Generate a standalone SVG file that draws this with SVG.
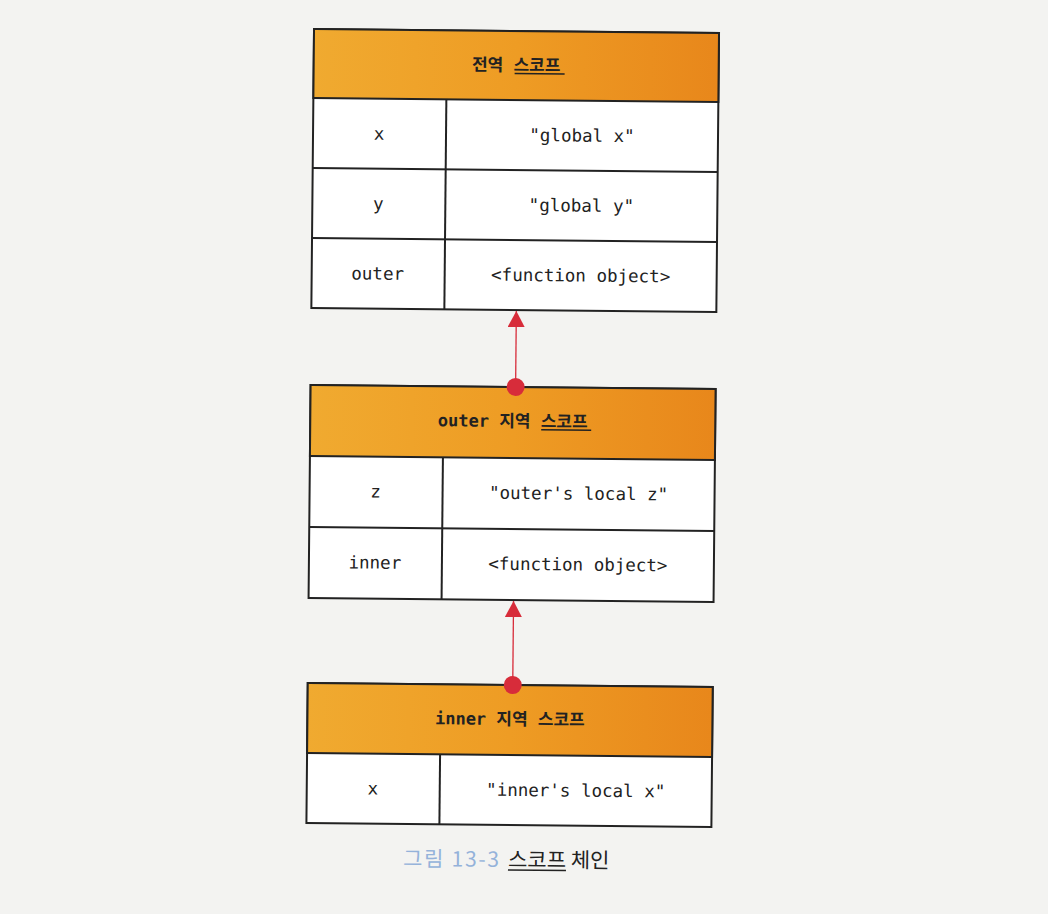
<svg xmlns="http://www.w3.org/2000/svg" width="1048" height="914" viewBox="0 0 1048 914">
  <defs>
    <linearGradient id="hdr" x1="0" y1="0" x2="1" y2="0">
      <stop offset="0" stop-color="#f0aa30"/>
      <stop offset="0.5" stop-color="#ee9c24"/>
      <stop offset="1" stop-color="#e8871b"/>
    </linearGradient>
    <marker id="tri" viewBox="0 0 16 17" refX="16" refY="8.5" markerWidth="16" markerHeight="17" markerUnits="userSpaceOnUse" orient="auto">
      <path d="M0,0 L16,8.5 L0,17 z" fill="#d72c3a"/>
    </marker>
    <marker id="dot" viewBox="0 0 20 20" refX="10" refY="10" markerWidth="20" markerHeight="20" markerUnits="userSpaceOnUse" orient="auto">
      <circle cx="10" cy="10" r="9" fill="#d72c3a"/>
    </marker>
  </defs>
  <style>
    .hdr { fill: url(#hdr); stroke: #222; stroke-width: 2; }
    .cell { fill: #ffffff; stroke: #222; stroke-width: 2; }
    .grid { stroke: #222; stroke-width: 2; }
    .h { font-family: "DejaVu Sans Mono", "Noto Sans CJK KR", monospace; font-size: 17px; font-weight: bold; fill: #222; text-anchor: middle; }
    .t { font-family: "DejaVu Sans Mono", "Liberation Mono", monospace; font-size: 17.5px; fill: #222; text-anchor: middle; }
    .ul { stroke: #222; stroke-width: 1.5; }
    .conn { stroke: #d72c3a; stroke-width: 1.3; fill: none; marker-start: url(#dot); marker-end: url(#tri); }
    .cap { font-family: "Noto Sans CJK KR", "Noto Sans", sans-serif; font-size: 21px; }
  </style>
  <rect x="0" y="0" width="1048" height="914" fill="#f3f3f1"/>
  <g transform="rotate(0.55 515 450)">
    <g id="node-global">
      <rect class="cell" x="310" y="31" width="405" height="279"/>
      <rect class="hdr" x="310" y="31" width="405" height="69"/>
      <line class="grid" x1="310" y1="170" x2="715" y2="170"/>
      <line class="grid" x1="310" y1="240" x2="715" y2="240"/>
      <line class="grid" x1="443" y1="100" x2="443" y2="310"/>
      <text class="h" x="512.5" y="71">전역 스코프</text>
      <line class="ul" x1="511" y1="73.5" x2="561" y2="73.5"/>
      <text class="t" x="376" y="141">x</text>
      <text class="t" x="579" y="141">"global x"</text>
      <text class="t" x="376" y="211">y</text>
      <text class="t" x="579" y="211">"global y"</text>
      <text class="t" x="376" y="281">outer</text>
      <text class="t" x="579" y="281">&lt;function object&gt;</text>
    </g>
    <g id="node-outer">
      <rect class="cell" x="310" y="387" width="405" height="213"/>
      <rect class="hdr" x="310" y="387" width="405" height="71"/>
      <line class="grid" x1="310" y1="529" x2="715" y2="529"/>
      <line class="grid" x1="443" y1="458" x2="443" y2="600"/>
      <text class="h" x="512.5" y="427">outer 지역 스코프</text>
      <line class="ul" x1="541" y1="429.5" x2="591" y2="429.5"/>
      <text class="t" x="376" y="499">z</text>
      <text class="t" x="579" y="499">"outer's local z"</text>
      <text class="t" x="376" y="570">inner</text>
      <text class="t" x="579" y="570">&lt;function object&gt;</text>
    </g>
    <g id="node-inner">
      <rect class="cell" x="310" y="685" width="405" height="140"/>
      <rect class="hdr" x="310" y="685" width="405" height="70"/>
      <line class="grid" x1="443" y1="755" x2="443" y2="825"/>
      <text class="h" x="512.5" y="725">inner 지역 스코프</text>
      <text class="t" x="376" y="796">x</text>
      <text class="t" x="579" y="796">"inner's local x"</text>
    </g>
    <g id="connectors">
      <line class="conn" x1="515" y1="387" x2="515" y2="311"/>
      <line class="conn" x1="515" y1="685" x2="515" y2="601"/>
    </g>
    <g id="caption">
      <text class="cap" x="407" y="867" fill="#94b2da" textLength="96" lengthAdjust="spacing">그림 13-3</text>
      <text class="cap" x="512" y="867" fill="#222">스코프 체인</text>
      <line class="ul" x1="512" y1="870" x2="570" y2="870"/>
    </g>
  </g>
</svg>
